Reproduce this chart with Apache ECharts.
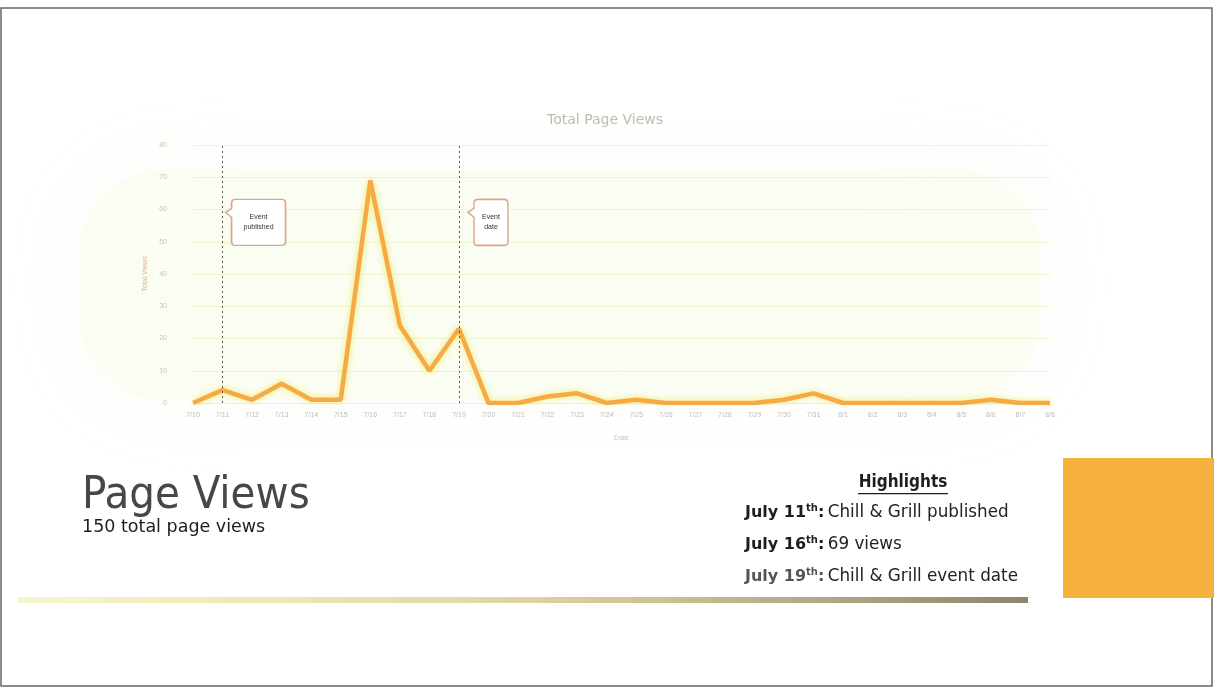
<!DOCTYPE html>
<html>
<head>
<meta charset="utf-8">
<title>Page Views</title>
<script src="https://cdn.jsdelivr.net/npm/echarts@6/dist/echarts.min.js"></script>
<style>
  html, body { margin: 0; padding: 0; background: #fff; }
  #main { width: 1214px; height: 688px; }
</style>
</head>
<body>
<div id="main"></div>
<script>
// daily page views, 7/10 - 8/8
const dates = ['7/10', '7/11', '7/12', '7/13', '7/14', '7/15', '7/16', '7/17', '7/18', '7/19',
  '7/20', '7/21', '7/22', '7/23', '7/24', '7/25', '7/26', '7/27', '7/28', '7/29', '7/30', '7/31',
  '8/1', '8/2', '8/3', '8/4', '8/5', '8/6', '8/7', '8/8'];
const views = [0, 4, 1, 6, 1, 1, 69, 24, 10, 23,
  0, 0, 2, 3, 0, 1, 0, 0, 0, 0, 1, 3,
  0, 0, 0, 0, 0, 1, 0, 0];

// annotated days
const events = [
  { date: '7/11', text: 'Event\npublished', at: 56 },
  { date: '7/19', text: 'Event\ndate', at: 56 }
];

const highlights = [
  { day: '11', text: 'Chill & Grill published' },
  { day: '16', text: '69 views' },
  { day: '19', text: 'Chill & Grill event date' }
];

const totalViews = views.reduce((a, b) => a + b, 0);

// speech bubble with a small tail on the left
function bubble(w, h) {
  const r = 4, t = 6;
  return 'path://M' + (t + r) + ',0 H' + (w - r) + ' Q' + w + ',0 ' + w + ',' + r +
    ' V' + (h - r) + ' Q' + w + ',' + h + ' ' + (w - r) + ',' + h +
    ' H' + (t + r) + ' Q' + t + ',' + h + ' ' + t + ',' + (h - r) +
    ' V18 L0,13 L' + t + ',9 V' + r + ' Q' + t + ',0 ' + (t + r) + ',0 Z';
}

const chart = echarts.init(document.getElementById('main'));

const hlFont = 'DejaVu Sans';
const hlGraphics = highlights.map((h, i) => ({
  type: 'text',
  x: 745,
  y: 503 + i * 32,
  style: {
    text: '{b|July ' + h.day + '}{s|th}{b|:} {r|' + h.text + '}',
    rich: {
      b: { fontFamily: hlFont, fontWeight: 'bold', fontSize: 16, fill: i === 2 ? '#555' : '#1e1e1e', lineHeight: 20 },
      s: { fontFamily: hlFont, fontWeight: 'bold', fontSize: 10, fill: i === 2 ? '#555' : '#1e1e1e', verticalAlign: 'top', lineHeight: 20 },
      r: { fontFamily: hlFont, fontSize: 16.8, fill: '#222', lineHeight: 20 }
    }
  }
}));

chart.setOption({
  backgroundColor: '#fff',
  animation: false,
  title: {
    text: 'Total Page Views',
    left: 600,
    top: 108,
    textAlign: 'center',
    textStyle: { fontSize: 14, fontWeight: 'normal', color: '#bdbcae', fontFamily: 'DejaVu Sans' }
  },
  grid: { left: 193, right: 164, top: 145, bottom: 285 },
  xAxis: {
    type: 'category',
    data: dates,
    boundaryGap: false,
    name: 'Date',
    nameLocation: 'middle',
    nameGap: 32,
    nameTextStyle: { fontSize: 7, color: '#c4c4c4' },
    axisLine: { lineStyle: { color: '#eef3c4' } },
    axisTick: { show: false },
    axisLabel: { fontSize: 7, color: '#bdbdbd', margin: 9, interval: 0 },
    splitLine: { show: false }
  },
  yAxis: {
    type: 'value',
    min: 0,
    max: 80,
    interval: 10,
    name: 'Total Views',
    nameLocation: 'middle',
    nameGap: 44,
    nameTextStyle: { fontSize: 7, color: '#e9ab93' },
    axisLine: { show: false },
    axisTick: { show: false },
    axisLabel: { fontSize: 7, color: '#d6bdb0', margin: 26 },
    splitLine: { lineStyle: { color: '#eef5cc', width: 1 } }
  },
  series: [{
    type: 'line',
    data: views,
    symbol: 'none',
    lineStyle: {
      color: '#f5aa45',
      width: 4.5,
      shadowColor: 'rgba(238,232,90,0.9)',
      shadowBlur: 6
    },
    markLine: {
      silent: true,
      symbol: 'none',
      label: { show: false },
      lineStyle: { color: '#5a5a5a', type: [2, 3], width: 1 },
      data: events.map(e => ({ xAxis: e.date }))
    },
    markPoint: {
      silent: true,
      data: events.map((e, i) => ({
        coord: [e.date, e.at],
        symbol: bubble(i === 0 ? 60 : 40, 46),
        symbolSize: i === 0 ? [60, 46] : [40, 46],
        symbolOffset: [i === 0 ? 33 : 29, 0],
        itemStyle: { color: '#fff', borderColor: '#dca58e', borderWidth: 1.5 },
        label: {
          show: true,
          position: 'inside',
          offset: [3, 0],
          formatter: e.text,
          fontSize: 7,
          lineHeight: 10,
          color: '#333'
        }
      }))
    }
  }],
  graphic: [
    // slide frame
    { type: 'rect', shape: { x: 1, y: 8, width: 1211, height: 678 }, style: { fill: 'none', stroke: '#666', lineWidth: 1.5 }, z: -1 },
    // faint tint behind the chart
    {
      type: 'rect', shape: { x: 80, y: 170, width: 960, height: 230, r: 80 },
      style: { fill: 'rgba(247,251,228,0.35)', shadowColor: 'rgba(247,251,228,0.9)', shadowBlur: 90 }, z: -2
    },
    { type: 'text', x: 82, y: 474, style: { text: 'Page Views', fontFamily: 'DejaVu Sans Condensed', fontSize: 45, fill: '#474747' } },
    { type: 'text', x: 82, y: 518, style: { text: totalViews + ' total page views', fontFamily: 'DejaVu Sans', fontSize: 17.5, fill: '#1e1e1e' } },
    { type: 'text', x: 903, y: 474, style: { text: 'Highlights', align: 'center', fontFamily: 'DejaVu Sans Condensed', fontWeight: 'bold', fontSize: 17, fill: '#1e1e1e' } },
    { type: 'rect', shape: { x: 858, y: 493, width: 90, height: 1.3 }, style: { fill: '#1e1e1e' } },
    ...hlGraphics,
    // divider under the text block
    {
      type: 'rect', shape: { x: 18, y: 597, width: 1010, height: 6 },
      style: {
        fill: new echarts.graphic.LinearGradient(0, 0, 1, 0, [
          { offset: 0, color: 'rgba(240,240,170,0.6)' },
          { offset: 0.5, color: 'rgba(215,200,140,0.8)' },
          { offset: 1, color: '#8f836c' }
        ])
      }
    },
    // orange accent block
    { type: 'rect', shape: { x: 1063, y: 458, width: 151, height: 140 }, style: { fill: '#f5b03e' } }
  ]
});
</script>
</body>
</html>
